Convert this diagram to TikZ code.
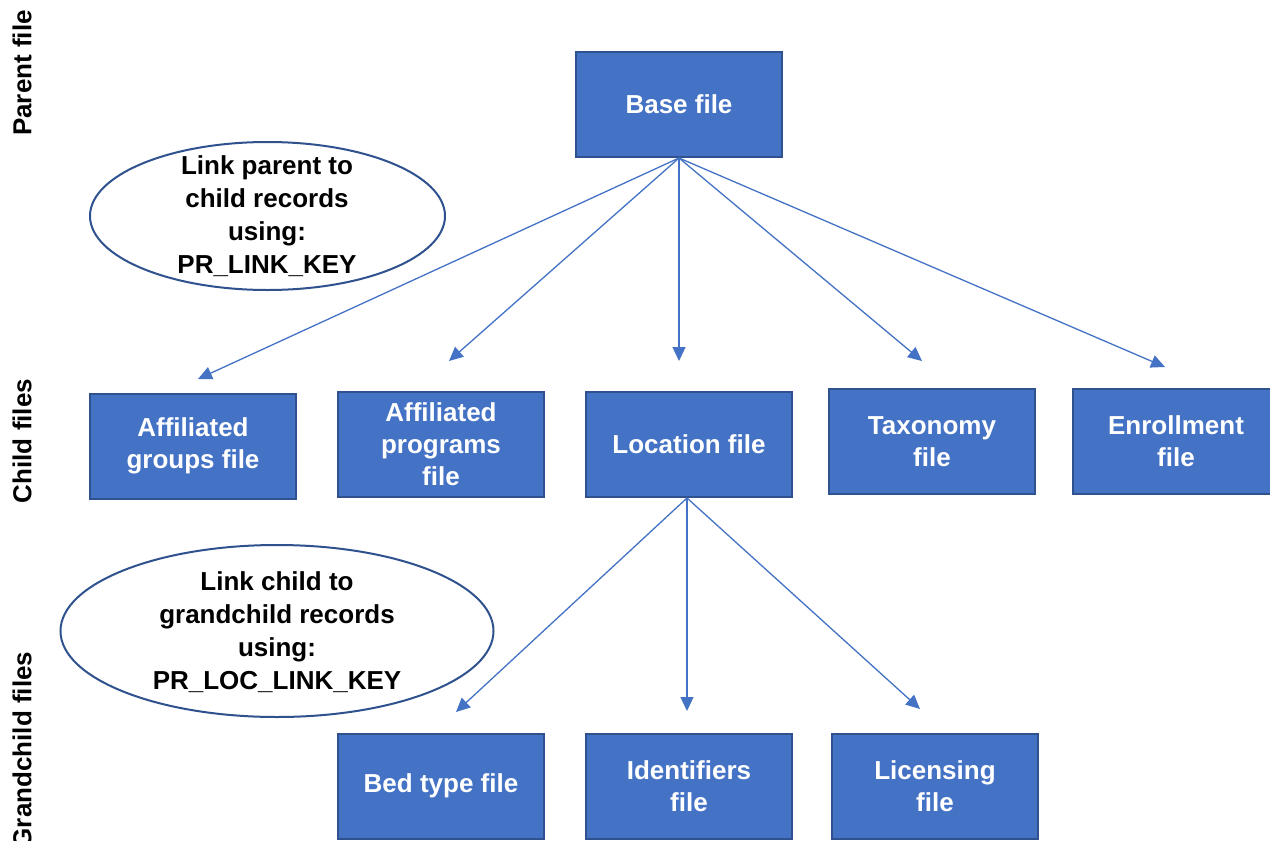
\documentclass[tikz,border=0pt]{standalone}
\usepackage{fontspec}
\setmainfont{Liberation Sans}
\usetikzlibrary{arrows.meta}
\definecolor{boxfill}{HTML}{4472C4}
\definecolor{boxline}{HTML}{2F528F}
\tikzset{
  filebox/.style={draw=boxline, line width=2pt, fill=boxfill, minimum width=206pt, minimum height=105pt,
    text=white, font=\bfseries\fontsize{26pt}{32pt}\selectfont, align=center, inner sep=0pt},
  linkoval/.style={draw=boxline, line width=2pt, ellipse, font=\bfseries\fontsize{26pt}{33pt}\selectfont, align=center, inner sep=0pt},
  sidelabel/.style={rotate=90, font=\bfseries\fontsize{26pt}{32pt}\selectfont, inner sep=0pt},
  link/.style={draw=boxfill, line width=1.3pt, -{Triangle[length=14pt,width=13pt]}}
}
\begin{document}
\begin{tikzpicture}[x=1pt,y=-1pt]
\clip (0,0) rectangle (1270,841);
\fill[white] (0,0) rectangle (1270,841);

% side labels
\node[sidelabel] (lp) at (22,73) {Parent file};
\node[sidelabel] (lc) at (22,441) {Child files};
\node[sidelabel] (lg) at (22,750) {Grandchild files};

% boxes
\node[filebox] (base) at (679,104.5) {Base file};
\node[filebox] (ag) at (193,446) {Affiliated\\groups file};
\node[filebox] (ap) at (441,444.5) {Affiliated\\programs\\file};
\node[filebox] (loc) at (689,444.5) {Location file};
\node[filebox] (tax) at (932,441.5) {Taxonomy\\file};
\node[filebox] (enr) at (1176,441.5) {Enrollment\\file};
\node[filebox] (bed) at (441,786) {Bed type file};
\node[filebox] (idf) at (689,786) {Identifiers\\file};
\node[filebox] (lic) at (935,786) {Licensing\\file};

% ellipses (drawn as shapes)
\draw[draw=boxline, line width=2pt] (267.5,216) ellipse [x radius=177.5, y radius=74];
\node[font=\bfseries\fontsize{26pt}{33pt}\selectfont, align=center, inner sep=0pt] (e1) at (267,216) {Link parent to\\child records\\using:\\PR\_LINK\_KEY};
\draw[draw=boxline, line width=2pt] (277,631) ellipse [x radius=216.5, y radius=86];
\node[font=\bfseries\fontsize{26pt}{33pt}\selectfont, align=center, inner sep=0pt] (e2) at (277,632) {Link child to\\grandchild records\\using:\\PR\_LOC\_LINK\_KEY};

% arrow ends
\coordinate (t1) at (198,379);
\coordinate (t2) at (449,361);
\coordinate (t3) at (679,361);
\coordinate (t4) at (922,361);
\coordinate (t5) at (1165,367);
\coordinate (g1) at (456,712);
\coordinate (g2) at (687,711);
\coordinate (g3) at (920,709);

\coordinate (bs) at (679,160);
\coordinate (ls) at (687,499);
\draw[link] (base.south) -- (t1);
\draw[link] (base.south) -- (t2);
\draw[link] (base.south) -- (t3);
\draw[link] (base.south) -- (t4);
\draw[link] (base.south) -- (t5);
\draw[link] (loc.south) ++(-2,0) -- (g1);
\draw[link] (loc.south) ++(-2,0) -- (g2);
\draw[link] (loc.south) ++(-2,0) -- (g3);
\end{tikzpicture}
\end{document}
